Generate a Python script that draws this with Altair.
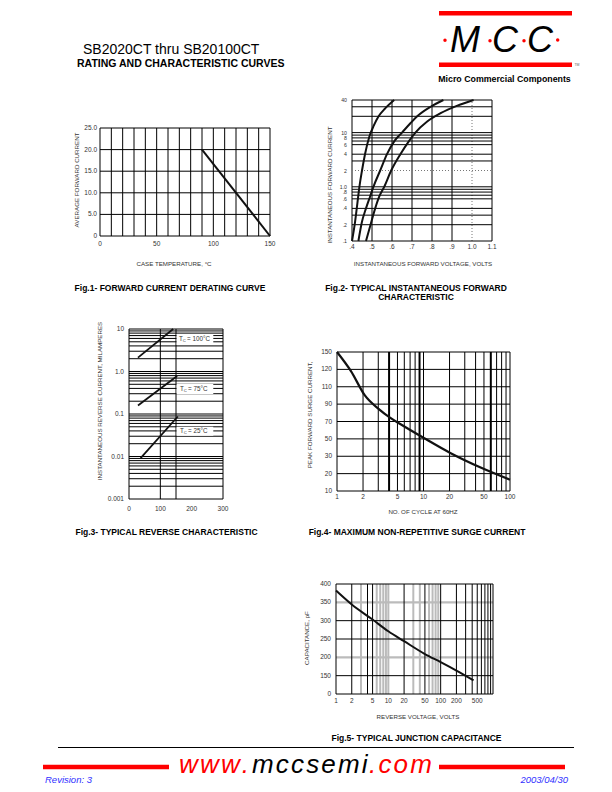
import altair as alt
import pandas as pd

# ---------------- values ----------------
# Fig.1  forward current derating curve
f1_temp = [90, 150]
f1_amps = [20.0, 0.0]
f1_xgrid = [0, 10, 20, 30, 40, 50, 60, 70, 80, 90, 100, 110, 120, 130, 140, 150]
f1_ygrid = [0, 5, 10, 15, 20, 25]
f1_xticks = [0, 50, 100, 150]
f1_xlabels = ["0", "50", "100", "150"]
f1_yticks = [0, 5, 10, 15, 20, 25]
f1_ylabels = ["0", "5.0", "10.0", "15.0", "20.0", "25.0"]

# Fig.2  typical instantaneous forward characteristic (three curves)
f2_v_a = [0.400, 0.415, 0.427, 0.437, 0.450, 0.465, 0.487, 0.507, 0.533, 0.566, 0.611]
f2_i_a = [0.1, 0.22, 0.5, 1.0, 2.0, 4.0, 8.5, 13, 20, 28, 40]
f2_v_b = [0.432, 0.449, 0.470, 0.491, 0.507, 0.541, 0.575, 0.611, 0.650, 0.692, 0.726, 0.793, 0.857]
f2_i_b = [0.1, 0.22, 0.4, 0.67, 1.0, 2.0, 4.0, 6.9, 10, 14.9, 20, 30, 40]
f2_v_c = [0.470, 0.491, 0.516, 0.537, 0.561, 0.596, 0.642, 0.684, 0.717, 0.776, 0.843, 0.927, 1.008]
f2_i_c = [0.1, 0.19, 0.4, 0.67, 1.0, 2.0, 4.0, 6.9, 10, 16, 22.8, 31.5, 40]
f2_xgrid = [0.4, 0.5, 0.6, 0.7, 0.8, 0.9, 1.1]
f2_xgrid_dotted = [1.0]
f2_ygrid = [0.1, 0.2, 0.3, 0.4, 0.6, 0.7, 0.8, 0.9, 1, 3, 4, 6, 7, 8, 9, 10, 20, 30, 40]
f2_ygrid_dotted = [2]
f2_xticks = [0.4, 0.5, 0.6, 0.7, 0.8, 0.9, 1.0, 1.1]
f2_xlabels = [".4", ".5", ".6", ".7", ".8", ".9", "1.0", "1.1"]
f2_yticks = [0.1, 0.2, 0.4, 0.6, 0.8, 1, 2, 4, 6, 8, 10, 40]
f2_ylabels = [".1", ".2", ".4", ".6", ".8", "1.0", "2", "4", "6", "8", "10", "40"]

# Fig.3  typical reverse characteristic
f3_temps = ["100°C", "75°C", "25°C"]
f3_volts = [[28.6, 141.0], [28.6, 153.7], [37.1, 155.8]]
f3_ma = [[2.12, 10.0], [0.158, 0.787], [0.0092, 0.0873]]
f3_xgrid = [0, 100, 150, 300]
f3_ygrid = [0.001, 0.002, 0.003, 0.004, 0.005, 0.006, 0.007, 0.008, 0.009,
            0.01, 0.02, 0.03, 0.04, 0.05, 0.06, 0.07, 0.08, 0.09,
            0.1, 0.2, 0.3, 0.4, 0.5, 0.6, 0.7, 0.8, 0.9,
            1, 2, 3, 4, 5, 6, 7, 8, 9, 10]
f3_xticks = [0, 100, 200, 300]
f3_xlabels = ["0", "100", "200", "300"]
f3_yticks = [0.001, 0.01, 0.1, 1, 10]
f3_ylabels = ["0.001", "0.01", "0.1", "1.0", "10"]

# Fig.4  maximum non-repetitive surge current
f4_cycles = [1, 1.45, 2.1, 3.07, 4.1, 5.44, 10.1, 20.4, 47.2, 100]
f4_amps = [150, 119, 100, 84, 74.4, 66.8, 51, 33.8, 23.2, 16.5]
f4_levels = [10, 20, 30, 50, 70, 90, 110, 120, 150]   # printed (evenly spaced) y ticks
f4_xgrid = [1, 2, 3, 5, 6, 7, 8, 10, 20, 30, 40, 50, 70, 80, 90, 100]
f4_xgrid_heavy = [4, 9, 60]
f4_xticks = [1, 2, 5, 10, 20, 50, 100]
f4_xlabels = ["1", "2", "5", "10", "20", "50", "100"]

# Fig.5  typical junction capacitance
f5_volts = [1, 2, 5, 10, 20, 50, 100, 200, 425]
f5_pf = [382, 344, 303, 271, 244, 209, 187, 164, 112]
f5_levels = [0, 150, 200, 250, 300, 350, 400]          # printed (evenly spaced) y ticks
f5_ygrid = [0, 150, 250, 300, 400]
f5_ygrid_gray = [200, 350]
f5_xgrid = [1, 2, 4, 5, 20, 50, 100, 200, 300, 400, 500, 600, 700, 800, 900, 1000]
f5_xgrid_gray = [3, 6, 7, 8, 9, 10, 30, 40, 60, 70, 80, 90]
f5_xticks = [1, 2, 5, 10, 20, 50, 100, 200, 500]
f5_xlabels = ["1", "2", "5", "10", "20", "50", "100", "200", "500"]

# ---------------- styling / layout ----------------
MARGIN = 8


def P(v):
    """page pixel -> chart pixel"""
    return v - MARGIN


SANS = "Liberation Sans, Arial, Helvetica, sans-serif"
TICK = "#333333"
INK = "#111111"
TICKSIZE = 6.5
TITLESIZE = 6.2


def lin(dom, rng):
    return alt.Scale(type="linear", domain=dom, range=[P(r) for r in rng], nice=False, zero=False)


def logs(dom, rng):
    return alt.Scale(type="log", domain=dom, range=[P(r) for r in rng], nice=False)


def vgrid(vals, xs, ys, ydom, color="#000000", width=1.0, dash=None):
    df = pd.DataFrame({"v": vals, "lo": [ydom[0]] * len(vals), "hi": [ydom[-1]] * len(vals)})
    mk = dict(color=color, strokeWidth=width)
    if dash:
        mk["strokeDash"] = dash
    return alt.Chart(df).mark_rule(**mk).encode(
        x=alt.X("v:Q", scale=xs, axis=None),
        y=alt.Y("lo:Q", scale=ys, axis=None),
        y2="hi:Q",
    )


def hgrid(vals, xs, ys, xdom, color="#000000", width=1.0, dash=None):
    df = pd.DataFrame({"v": vals, "lo": [xdom[0]] * len(vals), "hi": [xdom[-1]] * len(vals)})
    mk = dict(color=color, strokeWidth=width)
    if dash:
        mk["strokeDash"] = dash
    return alt.Chart(df).mark_rule(**mk).encode(
        y=alt.Y("v:Q", scale=ys, axis=None),
        x=alt.X("lo:Q", scale=xs, axis=None),
        x2="hi:Q",
    )


def curve(xv, yv, xs, ys, width=2.0, interp="monotone"):
    df = pd.DataFrame({"x": xv, "y": yv})
    return alt.Chart(df).mark_line(color=INK, strokeWidth=width, interpolate=interp).encode(
        x=alt.X("x:Q", scale=xs, axis=None),
        y=alt.Y("y:Q", scale=ys, axis=None),
    )


def xticklabels(vals, labels, xs, ypage, size=TICKSIZE):
    df = pd.DataFrame({"v": vals, "t": labels})
    return alt.Chart(df).mark_text(font=SANS, fontSize=size, color=TICK,
                                   align="center", baseline="middle").encode(
        x=alt.X("v:Q", scale=xs, axis=None), y=alt.value(P(ypage)), text="t:N")


def yticklabels(vals, labels, ys, xpage, size=TICKSIZE):
    df = pd.DataFrame({"v": vals, "t": labels})
    return alt.Chart(df).mark_text(font=SANS, fontSize=size, color=TICK,
                                   align="right", baseline="middle").encode(
        y=alt.Y("v:Q", scale=ys, axis=None), x=alt.value(P(xpage)), text="t:N")


def label(text, x, y, size, font=SANS, weight="normal", color="#000000", angle=0,
          align="center", baseline="middle", italic=False):
    mk = dict(font=font, fontSize=size, fontWeight=weight, color=color,
              align=align, baseline=baseline)
    if angle:
        mk["angle"] = angle
    if italic:
        mk["fontStyle"] = "italic"
    return alt.Chart(pd.DataFrame({"t": [text]})).mark_text(**mk).encode(
        x=alt.value(P(x)), y=alt.value(P(y)), text="t:N")


def hbar(x0, x1, y, width, color):
    return alt.Chart(pd.DataFrame({"k": [0]})).mark_rule(color=color, strokeWidth=width).encode(
        x=alt.value(P(x0)), x2=alt.value(P(x1)), y=alt.value(P(y)))


def dot(x, y, size, color):
    return alt.Chart(pd.DataFrame({"k": [0]})).mark_circle(color=color, size=size, opacity=1).encode(
        x=alt.value(P(x)), y=alt.value(P(y)))


# ---------------- Fig.1 ----------------
x1dom, y1dom = [0, 150], [0, 25]
xs1 = lin(x1dom, [100, 270])
ys1 = lin(y1dom, [236, 128])
p1 = alt.layer(
    vgrid(f1_xgrid, xs1, ys1, y1dom),
    hgrid(f1_ygrid, xs1, ys1, x1dom),
    curve(f1_temp, f1_amps, xs1, ys1, width=2, interp="linear"),
    xticklabels(f1_xticks, f1_xlabels, xs1, 244),
    yticklabels(f1_yticks, f1_ylabels, ys1, 97),
)

# ---------------- Fig.2 ----------------
x2dom, y2dom = [0.4, 1.1], [0.1, 40]
xs2 = lin(x2dom, [352, 492])
ys2 = logs(y2dom, [241, 100])
p2 = alt.layer(
    vgrid(f2_xgrid, xs2, ys2, y2dom),
    vgrid(f2_xgrid_dotted, xs2, ys2, y2dom, color="#777777", dash=[1, 2]),
    hgrid(f2_ygrid, xs2, ys2, x2dom),
    hgrid(f2_ygrid_dotted, xs2, ys2, x2dom, color="#777777", dash=[1, 2]),
    curve(f2_v_a, f2_i_a, xs2, ys2),
    curve(f2_v_b, f2_i_b, xs2, ys2),
    curve(f2_v_c, f2_i_c, xs2, ys2),
    xticklabels(f2_xticks, f2_xlabels, xs2, 247),
    yticklabels(f2_yticks, f2_ylabels, ys2, 347, size=5.2),
)

# ---------------- Fig.3 ----------------
x3dom, y3dom = [0, 300], [0.001, 10]
xs3 = lin(x3dom, [129, 223])
ys3 = logs(y3dom, [499, 329])
f3_rows = []
for t, vv, ii in zip(f3_temps, f3_volts, f3_ma):
    for v, i in zip(vv, ii):
        f3_rows.append({"T": t, "x": v, "y": i})
f3_df = pd.DataFrame(f3_rows)
f3_lines = alt.Chart(f3_df).mark_line(color=INK, strokeWidth=1.8).encode(
    x=alt.X("x:Q", scale=xs3, axis=None),
    y=alt.Y("y:Q", scale=ys3, axis=None),
    detail="T:N",
)
# white boxes behind the temperature tags (data coordinates of the box corners)
tag_box = pd.DataFrame({
    "x0": [152, 152, 152], "x1": [269, 269, 269],
    "y0": [4.2, 0.296, 0.0308], "y1": [7.6, 0.508, 0.0502],
})
tag_pos = pd.DataFrame({
    "x": [159.6, 162.8, 162.8], "y": [5.73, 0.387, 0.0398],
    "T": ["T", "T", "T"], "c": ["C", "C", "C"],
    "rest": ["= " + t for t in f3_temps],
})
f3_boxes = alt.Chart(tag_box).mark_rect(color="white").encode(
    x=alt.X("x0:Q", scale=xs3, axis=None), x2="x1:Q",
    y=alt.Y("y0:Q", scale=ys3, axis=None), y2="y1:Q")


def tag_text(field, size, dx, dy):
    return alt.Chart(tag_pos).mark_text(font=SANS, fontSize=size, color=TICK, align="left",
                                        baseline="middle", dx=dx, dy=dy).encode(
        x=alt.X("x:Q", scale=xs3, axis=None), y=alt.Y("y:Q", scale=ys3, axis=None),
        text=f"{field}:N")


p3 = alt.layer(
    vgrid(f3_xgrid, xs3, ys3, y3dom),
    hgrid(f3_ygrid, xs3, ys3, x3dom),
    f3_boxes,
    f3_lines,
    tag_text("T", 6.3, 0, 0),
    tag_text("c", 4.2, 3.8, 2),
    tag_text("rest", 6.3, 8, 0),
    xticklabels(f3_xticks, f3_xlabels, xs3, 508.5),
    yticklabels(f3_yticks, f3_ylabels, ys3, 124),
)

# ---------------- Fig.4 ----------------
x4dom = [1, 100]
f4_top, f4_bot = 352, 491
f4_rng = [f4_bot + (f4_top - f4_bot) * k / (len(f4_levels) - 1) for k in range(len(f4_levels))]
xs4 = logs(x4dom, [337, 510])
ys4 = alt.Scale(type="linear", domain=f4_levels, range=[P(r) for r in f4_rng], nice=False, zero=False)
p4 = alt.layer(
    vgrid(f4_xgrid, xs4, ys4, f4_levels),
    vgrid(f4_xgrid_heavy, xs4, ys4, f4_levels, width=2),
    hgrid(f4_levels, xs4, ys4, x4dom),
    curve(f4_cycles, f4_amps, xs4, ys4, width=2.2),
    xticklabels(f4_xticks, f4_xlabels, xs4, 496.5),
    yticklabels(f4_levels, [str(v) for v in f4_levels], ys4, 332),
)

# ---------------- Fig.5 ----------------
x5dom = [1, 1000]
f5_top, f5_bot = 584, 694
f5_rng = [f5_bot + (f5_top - f5_bot) * k / (len(f5_levels) - 1) for k in range(len(f5_levels))]
xs5 = logs(x5dom, [336, 493])
ys5 = alt.Scale(type="linear", domain=f5_levels, range=[P(r) for r in f5_rng], nice=False, zero=False)
p5 = alt.layer(
    vgrid(f5_xgrid_gray, xs5, ys5, f5_levels, color="#bbbbbb", width=2),
    hgrid(f5_ygrid_gray, xs5, ys5, x5dom, color="#bbbbbb", width=2.2),
    vgrid(f5_xgrid, xs5, ys5, f5_levels),
    hgrid(f5_ygrid, xs5, ys5, x5dom),
    curve(f5_volts, f5_pf, xs5, ys5, width=2),
    xticklabels(f5_xticks, f5_xlabels, xs5, 701),
    yticklabels(f5_levels, [str(v) for v in f5_levels], ys5, 331),
)

# ---------------- page texts ----------------
texts = [
    # header
    label("SB2020CT thru SB20100CT", 83, 50, 14, align="left"),
    label("RATING AND CHARACTERISTIC CURVES", 77, 64, 10.5, weight="bold", align="left"),
    # logo
    hbar(439, 572, 13.3, 4.5, "#ff0000"),
    hbar(439, 572, 64.8, 4.5, "#ff0000"),
    label("M", 465, 51.7, 36, italic=True, baseline="alphabetic"),
    label("C", 505, 51.7, 36, italic=True, baseline="alphabetic"),
    label("C", 540, 51.7, 36, italic=True, baseline="alphabetic"),
    dot(445, 40.3, 12, "#ff0000"),
    dot(490, 40.7, 12, "#ff0000"),
    dot(524, 40.7, 12, "#ff0000"),
    dot(557.7, 40, 12, "#ff0000"),
    label("TM", 577, 64.5, 3.5, color="#666666"),
    label("Micro Commercial Components", 504.5, 79.3, 8.8, weight="bold"),
    # fig 1
    label("AVERAGE FORWARD CURRENT", 77, 180, TITLESIZE, color=TICK, angle=270),
    label("CASE TEMPERATURE, °C", 174, 264, TITLESIZE, color=TICK),
    label("Fig.1- FORWARD CURRENT DERATING CURVE", 170, 288, 8.5, weight="bold"),
    # fig 2
    label("INSTANTANEOUS FORWARD CURRENT", 330, 185, TITLESIZE, color=TICK, angle=270),
    label("INSTANTANEOUS FORWARD VOLTAGE, VOLTS", 423, 264, TITLESIZE, color=TICK),
    label("Fig.2- TYPICAL INSTANTANEOUS FORWARD", 416, 288, 8.5, weight="bold"),
    label("CHARACTERISTIC", 416, 297, 8.5, weight="bold"),
    # fig 3
    label("INSTANTANEOUS REVERSE CURRENT, MILAMPERES", 100, 401, TITLESIZE, color=TICK, angle=270),
    label("Fig.3- TYPICAL REVERSE CHARACTERISTIC", 166.5, 532, 8.5, weight="bold"),
    # fig 4
    label("PEAK FORWARD SURGE CURRENT,", 310, 415, TITLESIZE, color=TICK, angle=270),
    label("NO. OF CYCLE AT 60HZ", 423, 512, TITLESIZE, color=TICK),
    label("Fig.4- MAXIMUM NON-REPETITIVE SURGE CURRENT", 417, 532, 8.5, weight="bold"),
    # fig 5
    label("CAPACITANCE, pF", 307, 638, TITLESIZE, color=TICK, angle=270),
    label("REVERSE VOLTAGE, VOLTS", 418, 717, TITLESIZE, color=TICK),
    label("Fig.5- TYPICAL JUNCTION CAPACITANCE", 416.5, 738, 8.5, weight="bold"),
    # footer
    hbar(58, 574, 747.5, 1, "#000000"),
    hbar(43, 169, 767, 4.5, "#ff0000"),
    hbar(439, 565, 767, 4.5, "#ff0000"),
    label("w\u200aw\u200aw\u200a.", 179, 773, 26, italic=True, color="#ff0000", align="left", baseline="alphabetic"),
    label("m\u200ac\u200ac\u200as\u200ae\u200am\u200ai", 252, 773, 26, italic=True, color="#000000", align="left", baseline="alphabetic"),
    label(".\u200ac\u200ao\u200am", 369, 773, 26, italic=True, color="#ff0000", align="left", baseline="alphabetic"),
    label("Revision: 3", 45, 779.5, 9.5, italic=True, color="#2f2fff", align="left"),
    label("2003/04/30", 568, 779.5, 9.5, italic=True, color="#2f2fff", align="right"),
]

chart = alt.layer(p1, p2, p3, p4, p5, *texts).resolve_scale(
    x="independent", y="independent"
).properties(
    width=596, height=776, padding=0,
    autosize=alt.AutoSizeParams(type="none"),
).configure_view(stroke=None)

chart.save("out.html", embed_options={"renderer": "svg", "actions": False})
